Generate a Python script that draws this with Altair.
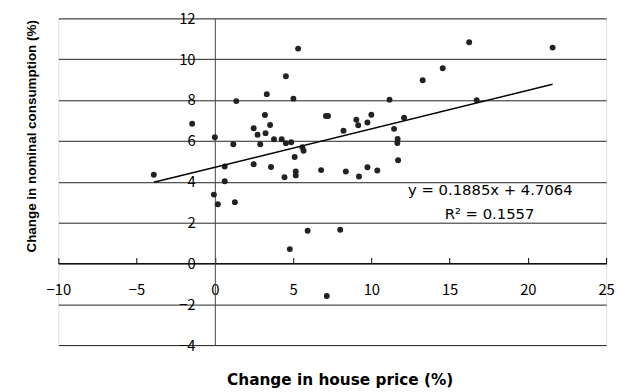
import altair as alt
import pandas as pd

# Change in house price (%)
house_price = [-3.9, -1.45, 0.0, -0.06, 0.19, 0.63, 0.63, 1.28, 1.18, 1.37,
               2.48, 2.48, 2.73, 2.9, 3.2, 3.32, 3.24, 3.53, 3.59, 3.78,
               4.27, 4.54, 4.88, 4.54, 5.02, 5.32, 5.1, 5.59, 5.67, 4.45,
               5.17, 5.17, 6.79, 7.1, 7.23, 8.22, 8.37, 9.04, 9.16, 9.21,
               9.75, 9.75, 10.0, 10.38, 11.16, 11.45, 11.68, 11.66, 11.71, 12.09,
               13.28, 14.56, 16.25, 16.73, 21.58, 4.79, 5.93, 8.01, 7.15]
# Change in nominal consumption (%)
consumption = [4.34, 6.84, 6.18, 3.37, 2.9, 4.02, 4.75, 3.0, 5.84, 7.95,
               4.86, 6.62, 6.3, 5.84, 7.27, 8.29, 6.38, 6.78, 4.72, 6.08,
               6.08, 5.89, 5.93, 9.17, 8.07, 10.52, 5.21, 5.69, 5.52, 4.22,
               4.5, 4.31, 4.57, 7.22, 7.22, 6.5, 4.5, 7.04, 6.77, 4.26,
               4.71, 6.9, 7.28, 4.55, 8.02, 6.59, 6.09, 5.9, 5.05, 7.14,
               8.97, 9.56, 10.83, 7.99, 10.57, 0.7, 1.6, 1.65, -1.6]

slope = 0.1885
intercept = 4.7064
eq_labels = ["y = 0.1885x + 4.7064", "R² = 0.1557"]
eq_x = [17.6, 17.55]
eq_y = [3.58, 2.42]

x_ticks = [-10, -5, 0, 5, 10, 15, 20, 25]
y_ticks = [-4, -2, 0, 2, 4, 6, 8, 10, 12]

W, H = 555, 331
FONT = "Noto Sans CJK JP"

pts = pd.DataFrame({"x": house_price, "y": consumption})
xmin, xmax = min(house_price), max(house_price)
fit = pd.DataFrame({"x": [xmin, xmax],
                    "y": [slope * xmin + intercept, slope * xmax + intercept]})
ann = pd.DataFrame({"x": eq_x, "y": eq_y, "t": eq_labels})

xscale = alt.Scale(domain=[-10, 25], nice=False, zero=False)
yscale = alt.Scale(domain=[-4, 12], nice=False, zero=False)

x_off = -(H * 4 / 16)         # move bottom axis up to y = 0
y_off = -(W * 10 / 35)        # move left axis right to x = 0

x_axis = alt.Axis(values=x_ticks, offset=x_off, grid=False, ticks=False,
                  domain=True, domainColor="#000", domainWidth=1.2,
                  labelFont=FONT, labelFontSize=15, labelColor="#000",
                  labelPadding=19, labelOverlap=False, labelFlush=False,
                  title="Change in house price (%)", titleFont="DejaVu Sans",
                  titleFontSize=15.5, titleFontWeight="bold", titleColor="#000",
                  titleX=285, titleY=118, titleBaseline="middle", titleAlign="center")

y_axis = alt.Axis(values=y_ticks, offset=y_off, grid=True, gridColor="#222",
                  gridWidth=1, ticks=False, domain=True, domainColor="#444",
                  domainWidth=1, labelFont=FONT, labelFontSize=15, labelColor="#000",
                  labelPadding=20, labelOverlap=False, labelFlush=False,
                  title="Change in nominal consumption (%)", titleFont="Liberation Sans",
                  titleFontSize=13.6, titleFontWeight="bold", titleColor="#000",
                  titleX=-186, titleY=119, titleBaseline="middle", titleAlign="center")

points = alt.Chart(pts).mark_circle(size=36, color="#222", opacity=1).encode(
    x=alt.X("x:Q", scale=xscale, axis=x_axis),
    y=alt.Y("y:Q", scale=yscale, axis=y_axis),
)

tick_axis = alt.Axis(values=x_ticks, orient="top", offset=-(H * 12 / 16),
                     grid=False, domain=False, labels=False, ticks=True,
                     tickSize=6, tickColor="#000", tickWidth=1, title=None)

line = alt.Chart(fit).mark_line(color="#000", strokeWidth=1.6).encode(
    x=alt.X("x:Q", scale=xscale, axis=tick_axis),
    y=alt.Y("y:Q", scale=yscale),
)

text = alt.Chart(ann).mark_text(font="DejaVu Sans", fontSize=15, color="#000",
                                align="center", baseline="middle").encode(
    x=alt.X("x:Q", scale=xscale, axis=None),
    y=alt.Y("y:Q", scale=yscale),
    text="t:N",
)

chart = alt.layer(points, line, text).resolve_axis(x="independent").properties(
    width=W, height=H,
    autosize=alt.AutoSizeParams(type="none"),
    padding={"left": 51, "top": 8, "right": 9, "bottom": 45},
).configure_view(stroke="#000", strokeWidth=1.2).configure(background="white")

chart.save("out.html", embed_options={"renderer": "svg", "actions": False})
